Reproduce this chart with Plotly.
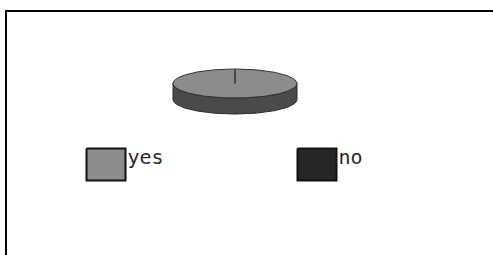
import numpy as np
import plotly.graph_objects as go

# ---- data ----
categories = ["yes", "no"]
values = [100, 0]
top_colors = ["#8c8c8c", "#262626"]
side_colors = ["#4a4a4a", "#1c1c1c"]

# ---- layout constants (pixel-like coordinates) ----
W, H = 493, 255
CX, CY, RX, RY, DEPTH = 235, 83.5, 62, 14.5, 16
LEG_X0, LEG_STEP, LEG_Y0, LEG_W, LEG_H = 86.5, 211, 148.5, 39, 32
TXT_DX, TXT_Y = 2, 159

fig = go.Figure()

total = sum(values)
fracs = [v / total for v in values]


def ell(theta):
    # theta: clockwise angle from 12 o'clock
    return CX + RX * np.sin(theta), CY - RY * np.cos(theta)


# side (front half only)
start = 0.0
for cat, f, sc in zip(categories, fracs, side_colors):
    a0, a1 = start * 2 * np.pi, (start + f) * 2 * np.pi
    start += f
    lo, hi = max(a0, np.pi / 2), min(a1, 3 * np.pi / 2)
    if f <= 0 or hi <= lo:
        continue
    t = np.linspace(lo, hi, 120)
    x, y = ell(t)
    xs = np.concatenate([x, x[::-1], [x[0]]])
    ys = np.concatenate([y, (y + DEPTH)[::-1], [y[0]]])
    fig.add_trace(go.Scatter(x=xs, y=ys, fill="toself", fillcolor=sc, mode="lines",
                             line=dict(color="#2a2a2a", width=1), hoverinfo="skip",
                             showlegend=False))

# top
start = 0.0
for cat, f, tc in zip(categories, fracs, top_colors):
    if f <= 0:
        start += f
        continue
    t = np.linspace(start * 2 * np.pi, (start + f) * 2 * np.pi, 240)
    start += f
    x, y = ell(t)
    xs = np.concatenate([[CX], x, [CX]])
    ys = np.concatenate([[CY], y, [CY]])
    fig.add_trace(go.Scatter(x=xs, y=ys, fill="toself", fillcolor=tc, mode="lines",
                             line=dict(color="#333333", width=1), name=cat,
                             showlegend=False))

# legend boxes + labels
for i, (cat, tc) in enumerate(zip(categories, top_colors)):
    x0 = LEG_X0 + i * LEG_STEP
    fig.add_trace(go.Scatter(
        x=[x0, x0 + LEG_W, x0 + LEG_W, x0, x0],
        y=[LEG_Y0, LEG_Y0, LEG_Y0 + LEG_H, LEG_Y0 + LEG_H, LEG_Y0],
        fill="toself", fillcolor=tc, mode="lines",
        line=dict(color="#111111", width=2), hoverinfo="skip", showlegend=False))
    fig.add_trace(go.Scatter(
        x=[x0 + LEG_W + TXT_DX], y=[TXT_Y], mode="text", text=[cat],
        textposition="middle right",
        textfont=dict(family="DejaVu Sans Mono", size=20, color="#2a2a2a"),
        hoverinfo="skip", showlegend=False))

# frame: top and left edges only (right/bottom lie outside the picture)
fig.add_shape(type="line", x0=5, y0=11, x1=W, y1=11,
              line=dict(color="black", width=2), layer="above")
fig.add_shape(type="line", x0=6, y0=10, x1=6, y1=H,
              line=dict(color="black", width=2), layer="above")

fig.update_layout(
    width=W, height=H, margin=dict(l=0, r=0, t=0, b=0),
    paper_bgcolor="white", plot_bgcolor="white",
    xaxis=dict(range=[0, W], visible=False, fixedrange=True),
    yaxis=dict(range=[H, 0], visible=False, fixedrange=True),
    showlegend=False,
)

fig.write_html("out.html", config={"displayModeBar": False},
               post_script="document.body.style.margin='0';document.body.style.overflow='hidden';")
